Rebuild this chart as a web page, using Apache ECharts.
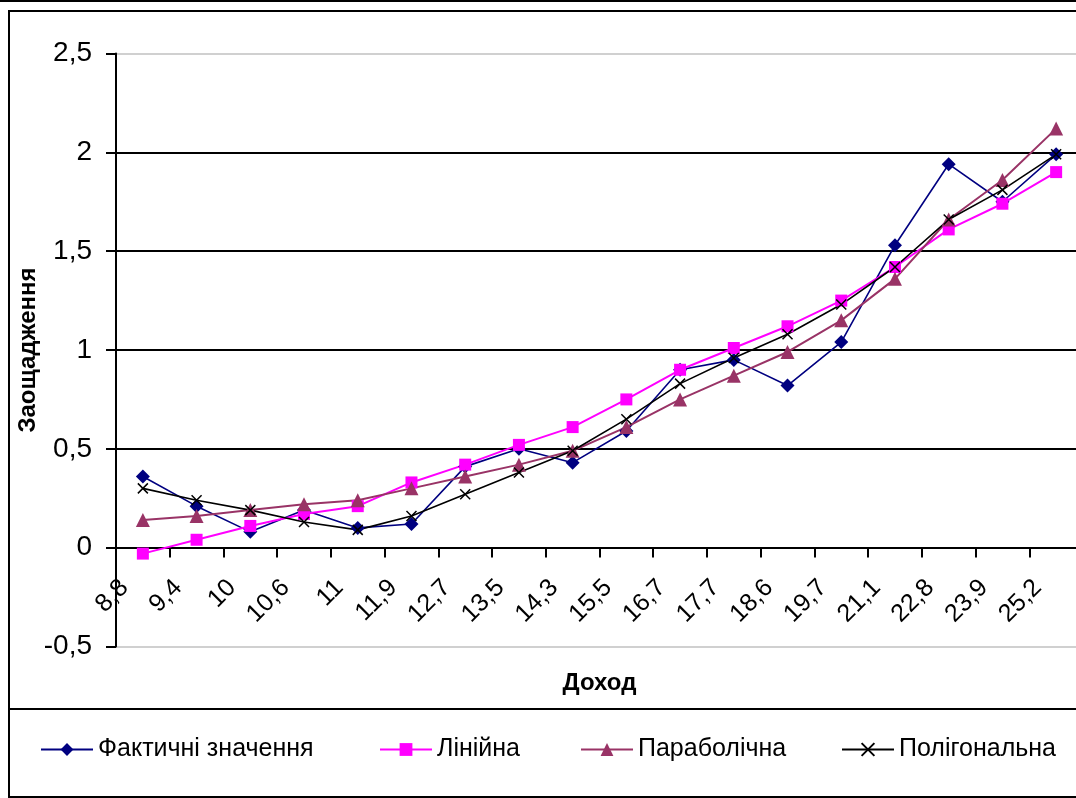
<!DOCTYPE html>
<html>
<head>
<meta charset="utf-8">
<script src="https://cdn.jsdelivr.net/npm/echarts@6/dist/echarts.min.js"></script>
<style>
  html, body { margin: 0; padding: 0; background: #fff; }
  #chart { width: 1076px; height: 798px; }
</style>
</head>
<body>
<div id="chart"></div>
<script>
// доход (категорії осі X)
const categories = ['8,8', '9,4', '10', '10,6', '11', '11,9', '12,7', '13,5', '14,3',
  '15,5', '16,7', '17,7', '18,6', '19,7', '21,1', '22,8', '23,9', '25,2'];

// заощадження
const actual = [0.36, 0.21, 0.08, 0.19, 0.10, 0.12, 0.41, 0.50, 0.43, 0.59, 0.90, 0.95, 0.82, 1.04, 1.53, 1.94, 1.75, 1.99];
const linear = [-0.03, 0.04, 0.11, 0.17, 0.21, 0.33, 0.42, 0.52, 0.61, 0.75, 0.90, 1.01, 1.12, 1.25, 1.42, 1.61, 1.74, 1.90];
const parabolic = [0.14, 0.16, 0.19, 0.22, 0.24, 0.30, 0.36, 0.42, 0.49, 0.61, 0.75, 0.87, 0.99, 1.15, 1.36, 1.66, 1.86, 2.12];
const polygonal = [0.30, 0.24, 0.19, 0.13, 0.09, 0.16, 0.27, 0.38, 0.49, 0.65, 0.83, 0.96, 1.08, 1.23, 1.42, 1.66, 1.81, 1.99];

const names = ['Фактичні значення', 'Лінійна', 'Параболічна', 'Полігональна'];

const font = 'Liberation Sans, Arial, sans-serif';
const crossPath = 'path://M0,0L10,10M10,0L0,10';

let chart = echarts.init(document.getElementById('chart'));

function legendAt(name, left) {
  return {
    data: [name],
    left: left,
    top: 737,
    itemWidth: 52,
    itemHeight: 16,
    selectedMode: false,
    padding: 0,
    textStyle: { fontFamily: font, fontSize: 25, color: '#000' }
  };
}

let option = {
  animation: false,
  backgroundColor: '#fff',
  textStyle: { fontFamily: font },
  grid: {
    left: 116,
    top: 53.5,
    width: 967,
    height: 593,
    outerBoundsMode: 'none'
  },
  legend: [
    legendAt(names[0], 40),
    legendAt(names[1], 379),
    legendAt(names[2], 580),
    legendAt(names[3], 841)
  ],
  xAxis: {
    type: 'category',
    data: categories,
    boundaryGap: true,
    // вісь X проходить через нуль: піднімаємо її на 0,5 одиниці (≈99 px)
    offset: -99,
    name: 'Доход',
    nameLocation: 'middle',
    nameGap: 124,
    nameMoveOverlap: false,
    nameTextStyle: { fontFamily: font, fontSize: 24, fontWeight: 'bold', color: '#000' },
    axisLine: { onZero: false, lineStyle: { color: '#000', width: 2 } },
    axisTick: { show: true, length: 10, lineStyle: { color: '#000', width: 2 } },
    axisLabel: {
      rotate: 45,
      interval: 0,
      margin: 18,
      padding: [0, 26, 0, 0],
      fontFamily: font,
      fontSize: 25,
      color: '#000'
    },
    splitLine: { show: false }
  },
  yAxis: {
    type: 'value',
    min: -0.5,
    max: 2.5,
    interval: 0.5,
    name: 'Заощадження',
    nameLocation: 'middle',
    nameRotate: 90,
    nameGap: 76,
    nameMoveOverlap: false,
    nameTextStyle: { fontFamily: font, fontSize: 24, fontWeight: 'bold', color: '#000' },
    axisLine: { show: true, lineStyle: { color: '#000', width: 2 } },
    axisTick: { show: true, length: 10, lineStyle: { color: '#000', width: 2 } },
    axisLabel: {
      margin: 24,
      fontFamily: font,
      fontSize: 28,
      color: '#000',
      formatter: (v) => String(v).replace('.', ',')
    },
    splitLine: {
      show: true,
      lineStyle: {
        color: ['#d0d0d0', '#000', '#000', '#000', '#000', '#000', '#d0d0d0'],
        width: 2
      }
    }
  },
  series: [
    {
      name: names[0],
      type: 'line',
      data: actual,
      symbol: 'diamond',
      symbolSize: 14,
      lineStyle: { color: '#000080', width: 1.6 },
      itemStyle: { color: '#000080' }
    },
    {
      name: names[1],
      type: 'line',
      data: linear,
      symbol: 'rect',
      symbolSize: 12,
      lineStyle: { color: '#ff00ff', width: 2 },
      itemStyle: { color: '#ff00ff' }
    },
    {
      name: names[2],
      type: 'line',
      data: parabolic,
      symbol: 'triangle',
      symbolSize: 14,
      lineStyle: { color: '#993366', width: 2 },
      itemStyle: { color: '#993366' }
    },
    {
      name: names[3],
      type: 'line',
      data: polygonal,
      symbol: crossPath,
      symbolSize: 10,
      lineStyle: { color: '#000', width: 1.6 },
      itemStyle: { color: '#000', borderColor: '#000', borderWidth: 1.5 }
    }
  ],
  graphic: [
    // рамки як у вихідному рисунку
    { type: 'line', shape: { x1: 0, y1: 1, x2: 1076, y2: 1 }, style: { stroke: '#000', lineWidth: 2 } },
    { type: 'rect', shape: { x: 9, y: 11, width: 1080, height: 698 }, style: { fill: 'none', stroke: '#000', lineWidth: 2 } },
    { type: 'rect', shape: { x: 9, y: 709, width: 1080, height: 88 }, style: { fill: 'none', stroke: '#000', lineWidth: 2 } }
  ]
};

chart.setOption(option);
</script>
</body>
</html>
